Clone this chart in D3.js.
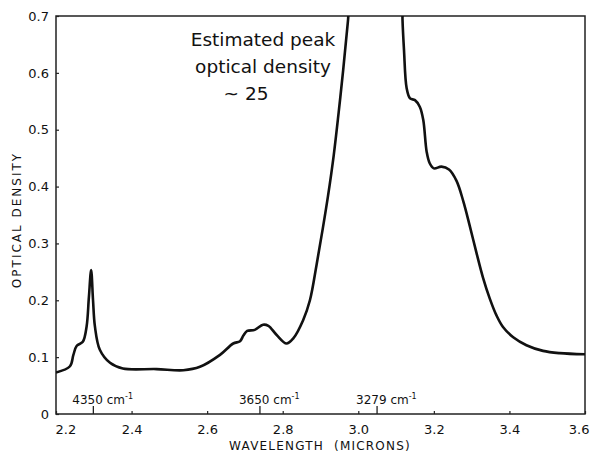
<!DOCTYPE html>
<html>
<head>
<meta charset="utf-8">
<script src="https://cdn.jsdelivr.net/npm/d3@7"></script>
<style>
  body { margin: 0; background: #fff; }
  text { font-family: "DejaVu Sans", sans-serif; fill: #111; }
</style>
</head>
<body>
<svg id="chart" width="590" height="456"></svg>
<script>
// wavelength in microns, optical density
const wavelength = [2.200, 2.237, 2.246, 2.255, 2.271, 2.281, 2.287, 2.293, 2.298, 2.303,
  2.316, 2.343, 2.377, 2.466, 2.537, 2.581, 2.634, 2.669, 2.687, 2.696, 2.706, 2.726, 2.748,
  2.762, 2.784, 2.810, 2.828, 2.854, 2.872, 2.890, 2.906, 2.920, 2.935, 2.948, 2.960,
  2.973, 2.986, 3.114, 3.117, 3.121, 3.128, 3.137, 3.150, 3.163, 3.172, 3.181,
  3.189, 3.200, 3.220, 3.240, 3.260, 3.278, 3.295, 3.313, 3.330, 3.348, 3.366, 3.383,
  3.410, 3.445, 3.489, 3.533, 3.600]
const density = [0.073, 0.084, 0.104, 0.120, 0.127, 0.154, 0.205, 0.253, 0.200, 0.154,
  0.113, 0.090, 0.080, 0.079, 0.077, 0.083, 0.104, 0.124, 0.128, 0.138, 0.146, 0.148, 0.157,
  0.155, 0.139, 0.124, 0.133, 0.165, 0.200, 0.264, 0.326, 0.384, 0.455, 0.530, 0.605,
  0.694, 0.790, 0.800, 0.694, 0.640, 0.573, 0.555, 0.552, 0.540, 0.517, 0.461,
  0.441, 0.432, 0.435, 0.430, 0.410, 0.374, 0.331, 0.283, 0.240, 0.203, 0.173, 0.153,
  0.135, 0.121, 0.111, 0.107, 0.105]

const xTicks = [2.2, 2.4, 2.6, 2.8, 3.0, 3.2, 3.4, 3.6]
const yTicks = [0, 0.1, 0.2, 0.3, 0.4, 0.5, 0.6, 0.7]
const wavenumbers = [4350, 3650, 3279]
const note = ['Estimated peak', 'optical density', '~ 25']

const svg = d3.select('#chart')
const margin = {top: 16, right: 5, bottom: 42, left: 56}
const width = 590 - margin.left - margin.right
const height = 456 - margin.top - margin.bottom

const x = d3.scaleLinear().domain([2.2, 3.6]).range([0, width])
const y = d3.scaleLinear().domain([0, 0.7]).range([height, 0])

const g = svg.append('g').attr('transform', `translate(${margin.left},${margin.top})`)

g.append('clipPath').attr('id', 'clip')
  .append('rect').attr('width', width).attr('height', height)

// frame
g.append('rect')
  .attr('width', width).attr('height', height)
  .attr('fill', 'none').attr('stroke', '#222').attr('stroke-width', 1.5)

const xAxis = g.append('g')
  .attr('transform', `translate(0,${height})`)
  .call(d3.axisBottom(x).tickValues(xTicks).tickSize(-3).tickPadding(8)
    .tickFormat(d3.format('.1f')))
xAxis.select('.domain').remove()
xAxis.selectAll('text').attr('font-size', 13).attr('dy', '0.9em')
  .style('font-family', '"DejaVu Sans", sans-serif')
  .attr('text-anchor', (d, i) => i === 0 ? 'start' : i === xTicks.length - 1 ? 'end' : 'middle')
  .attr('x', (d, i) => i === 0 ? -1 : i === xTicks.length - 1 ? 4 : 0)

const yAxis = g.append('g')
  .call(d3.axisLeft(y).tickValues(yTicks).tickSize(-3).tickPadding(7)
    .tickFormat(d => d === 0 ? '0' : d3.format('.1f')(d)))
yAxis.select('.domain').remove()
yAxis.selectAll('text').attr('font-size', 13)
  .style('font-family', '"DejaVu Sans", sans-serif')
g.selectAll('.tick line').attr('stroke', '#222').attr('stroke-width', 1.2)

// wavenumber markers
const marks = g.append('g').selectAll('g').data(wavenumbers).join('g')
  .attr('transform', d => `translate(${x(1e4 / d)},${height})`)
marks.append('line').attr('y1', 0).attr('y2', -8)
  .attr('stroke', '#222').attr('stroke-width', 1.3)
const mt = marks.append('text').attr('y', -10).attr('x', -21)
  .attr('font-size', 12)
mt.append('tspan').text(d => d + ' cm')
mt.append('tspan').text('-1').attr('font-size', 8).attr('dy', -5)

// spectrum
const line = d3.line()
  .x((d, i) => x(wavelength[i]))
  .y(d => y(d))
  .curve(d3.curveCatmullRom.alpha(0.5))

g.append('path')
  .datum(density)
  .attr('clip-path', 'url(#clip)')
  .attr('fill', 'none')
  .attr('stroke', '#111')
  .attr('stroke-width', 2.6)
  .attr('stroke-linejoin', 'round')
  .attr('d', line)

// annotation
g.append('g').selectAll('text').data(note).join('text')
  .text(d => d)
  .attr('x', (d, i) => i === 2 ? 190 : 207)
  .attr('y', (d, i) => 30 + i * 27)
  .attr('text-anchor', 'middle')
  .attr('font-size', 18.5)
  .style('white-space', 'pre')

// axis titles
svg.append('text')
  .text('WAVELENGTH  (MICRONS)')
  .attr('x', 320).attr('y', 450)
  .attr('text-anchor', 'middle')
  .attr('font-size', 12)
  .attr('letter-spacing', 1.2)
  .style('white-space', 'pre')

svg.append('text')
  .text('OPTICAL DENSITY')
  .attr('transform', 'translate(21,220) rotate(-90)')
  .attr('text-anchor', 'middle')
  .attr('font-size', 12)
  .attr('letter-spacing', 2)
</script>
</body>
</html>
